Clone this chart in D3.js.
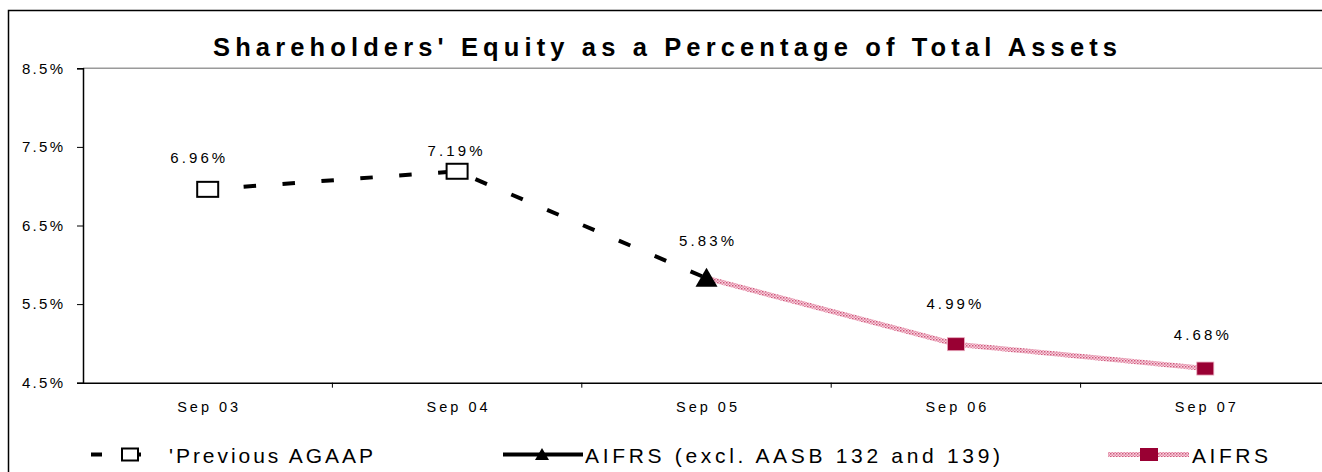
<!DOCTYPE html>
<html>
<head>
<meta charset="utf-8">
<script src="https://cdn.jsdelivr.net/npm/d3@7"></script>
<style>
  html, body { margin: 0; padding: 0; background: #fff; }
  svg { display: block; font-family: "Liberation Sans", Arial, sans-serif; }
</style>
</head>
<body>
<svg id="chart" width="1322" height="472"></svg>
<script>
// Reporting periods
const categories = ["Sep 03", "Sep 04", "Sep 05", "Sep 06", "Sep 07"];

// Shareholders' equity / total assets (%), one array per basis
const previousAgaap = [6.96, 7.19, 5.83, null, null];
const aifrsExcl     = [null, null, 5.83, null, null];
const aifrs         = [null, null, 5.83, 4.99, 4.68];

// Value axis ticks
const yTicks = [4.5, 5.5, 6.5, 7.5, 8.5];

const seriesNames = ["Previous AGAAP", "AIFRS (excl. AASB 132 and 139)", "AIFRS"];
const titleText = "Shareholders' Equity as a Percentage of Total Assets";

// Vertical gap between each point and its value label
const labelLift = [26, 15, 32, 35, 29];
const labelShift = [-10, -2, 0, -2, -4];

const svg = d3.select("#chart");
const font = "'Liberation Sans', Arial, sans-serif";

const plot = { left: 83, top: 68.3, right: 1330, bottom: 382.7 };

const x = d3.scaleBand()
  .domain(categories)
  .range([plot.left, plot.right])
  .padding(0);
const cx = c => x(c) + x.bandwidth() / 2;

const y = d3.scaleLinear()
  .domain([4.5, 8.5])
  .range([plot.bottom, plot.top]);

// Texture for the AIFRS line
const defs = svg.append("defs");
const pat = defs.append("pattern")
  .attr("id", "aifrsTexture")
  .attr("patternUnits", "userSpaceOnUse")
  .attr("width", 3).attr("height", 3);
pat.append("rect").attr("width", 3).attr("height", 3).attr("fill", "#f6d3de");
pat.append("rect").attr("width", 1.5).attr("height", 1.5).attr("fill", "#d0577c");
pat.append("rect").attr("x", 1.5).attr("y", 1.5).attr("width", 1.5).attr("height", 1.5).attr("fill", "#e58aa6");

// Outer frame
svg.append("rect")
  .attr("x", 8.5).attr("y", 10.5)
  .attr("width", 1400).attr("height", 500)
  .attr("fill", "none")
  .attr("stroke", "#000")
  .attr("stroke-width", 1.5);

// Title
svg.append("text")
  .attr("x", 665).attr("y", 55.5)
  .attr("text-anchor", "middle")
  .attr("font-size", 25.5)
  .attr("font-weight", "bold")
  .attr("textLength", 904)
  .attr("lengthAdjust", "spacing")
  .text(titleText);

// Plot area top edge
svg.append("line")
  .attr("x1", plot.left).attr("x2", 1322)
  .attr("y1", plot.top).attr("y2", plot.top)
  .attr("stroke", "#9a9a9a").attr("stroke-width", 1.5);

// Y axis
const yAxis = d3.axisLeft(y)
  .tickValues(yTicks)
  .tickSize(6)
  .tickFormat(d => d3.format(".1f")(d) + "%");
const gy = svg.append("g")
  .attr("transform", `translate(${plot.left},0)`)
  .call(yAxis);
gy.select(".domain").attr("stroke", "#000").attr("stroke-width", 1.5);
gy.selectAll(".tick line").attr("stroke", "#000").attr("stroke-width", 1);
gy.selectAll(".tick text")
  .attr("x", -20)
  .attr("font-family", font)
  .attr("font-size", 15)
  .attr("fill", "#000")
  .attr("textLength", 41)
  .attr("lengthAdjust", "spacing");

// X axis: ticks on band boundaries, labels at band centres
const xAxis = d3.axisBottom(x).tickSize(0).tickPadding(0);
const gx = svg.append("g")
  .attr("transform", `translate(0,${plot.bottom})`)
  .call(xAxis);
gx.select(".domain").attr("stroke", "#000").attr("stroke-width", 1.5);
gx.selectAll(".tick text")
  .attr("y", 29)
  .attr("dy", 0)
  .attr("font-family", font)
  .attr("font-size", 14.5)
  .attr("fill", "#000")
  .attr("textLength", 61)
  .attr("lengthAdjust", "spacing");
gx.selectAll(".boundary")
  .data(categories.slice(1))
  .join("line")
  .attr("x1", d => x(d)).attr("x2", d => x(d))
  .attr("y1", 0).attr("y2", 5)
  .attr("stroke", "#000").attr("stroke-width", 1);

// Series lines
const line = d3.line()
  .defined(d => d.v != null)
  .x(d => cx(d.c))
  .y(d => y(d.v));
const pts = arr => categories.map((c, i) => ({ c, v: arr[i] }));

svg.append("path")
  .datum(pts(aifrs))
  .attr("d", line)
  .attr("fill", "none")
  .attr("stroke", "url(#aifrsTexture)")
  .attr("stroke-width", 5);

svg.append("path")
  .datum(pts(previousAgaap))
  .attr("d", line)
  .attr("fill", "none")
  .attr("stroke", "#000")
  .attr("stroke-width", 4)
  .attr("stroke-dasharray", "12.5,26.5")
  .attr("stroke-dashoffset", 3);

svg.append("path")
  .datum(pts(aifrsExcl))
  .attr("d", line)
  .attr("fill", "none")
  .attr("stroke", "#000")
  .attr("stroke-width", 4);

// Markers (the triangle series owns the shared point)
const owned = (arr) => pts(arr).filter((d, i) => d.v != null && (arr === aifrsExcl || aifrsExcl[i] == null));

svg.selectAll(".m-prev")
  .data(owned(previousAgaap))
  .join("rect")
  .attr("x", d => cx(d.c) - 10.5)
  .attr("y", d => y(d.v) - 7.5)
  .attr("width", 21).attr("height", 15)
  .attr("fill", "#fff").attr("stroke", "#000").attr("stroke-width", 2);

svg.selectAll(".m-aifrs")
  .data(owned(aifrs))
  .join("rect")
  .attr("x", d => cx(d.c) - 8.5)
  .attr("y", d => y(d.v) - 6.5)
  .attr("width", 17).attr("height", 13)
  .attr("fill", "#990033").attr("stroke", "#e9a9bd").attr("stroke-width", 0.8);

const tri = (x0, y0, w, h) => `M${x0},${y0 - h * 0.55}L${x0 + w / 2},${y0 + h * 0.45}L${x0 - w / 2},${y0 + h * 0.45}Z`;
svg.selectAll(".m-excl")
  .data(owned(aifrsExcl))
  .join("path")
  .attr("d", d => tri(cx(d.c), y(d.v), 22, 19))
  .attr("fill", "#000");

// Value labels
const labelValues = categories.map((c, i) =>
  [aifrsExcl[i], aifrs[i], previousAgaap[i]].find(v => v != null));
svg.selectAll(".vlabel")
  .data(categories)
  .join("text")
  .attr("x", (c, i) => cx(c) + labelShift[i])
  .attr("y", (c, i) => y(labelValues[i]) - labelLift[i])
  .attr("text-anchor", "middle")
  .attr("font-size", 15)
  .attr("textLength", 55)
  .attr("lengthAdjust", "spacing")
  .text((c, i) => d3.format(".2f")(labelValues[i]) + "%");

// Legend
const lg = svg.append("g");
const ly = 454.5;
lg.append("line")
  .attr("x1", 91).attr("x2", 141).attr("y1", ly).attr("y2", ly)
  .attr("stroke", "#000").attr("stroke-width", 4)
  .attr("stroke-dasharray", "11,28");
lg.append("rect")
  .attr("x", 122).attr("y", ly - 6).attr("width", 16).attr("height", 12)
  .attr("fill", "#fff").attr("stroke", "#000").attr("stroke-width", 2);
lg.append("text")
  .attr("x", 169).attr("y", ly + 8)
  .attr("font-size", 21)
  .attr("textLength", 204).attr("lengthAdjust", "spacing")
  .text("'" + seriesNames[0]);

lg.append("line")
  .attr("x1", 503).attr("x2", 583).attr("y1", ly).attr("y2", ly)
  .attr("stroke", "#000").attr("stroke-width", 4);
lg.append("path")
  .attr("d", tri(542, ly, 14, 12))
  .attr("fill", "#000");
lg.append("text")
  .attr("x", 585).attr("y", ly + 8)
  .attr("font-size", 21)
  .attr("textLength", 415).attr("lengthAdjust", "spacing")
  .text(seriesNames[1]);

lg.append("line")
  .attr("x1", 1108).attr("x2", 1189).attr("y1", ly).attr("y2", ly)
  .attr("stroke", "url(#aifrsTexture)").attr("stroke-width", 5);
lg.append("rect")
  .attr("x", 1140).attr("y", ly - 6.5).attr("width", 18).attr("height", 13)
  .attr("fill", "#990033");
lg.append("text")
  .attr("x", 1192).attr("y", ly + 8)
  .attr("font-size", 21)
  .attr("textLength", 76).attr("lengthAdjust", "spacing")
  .text(seriesNames[2]);
</script>
</body>
</html>
